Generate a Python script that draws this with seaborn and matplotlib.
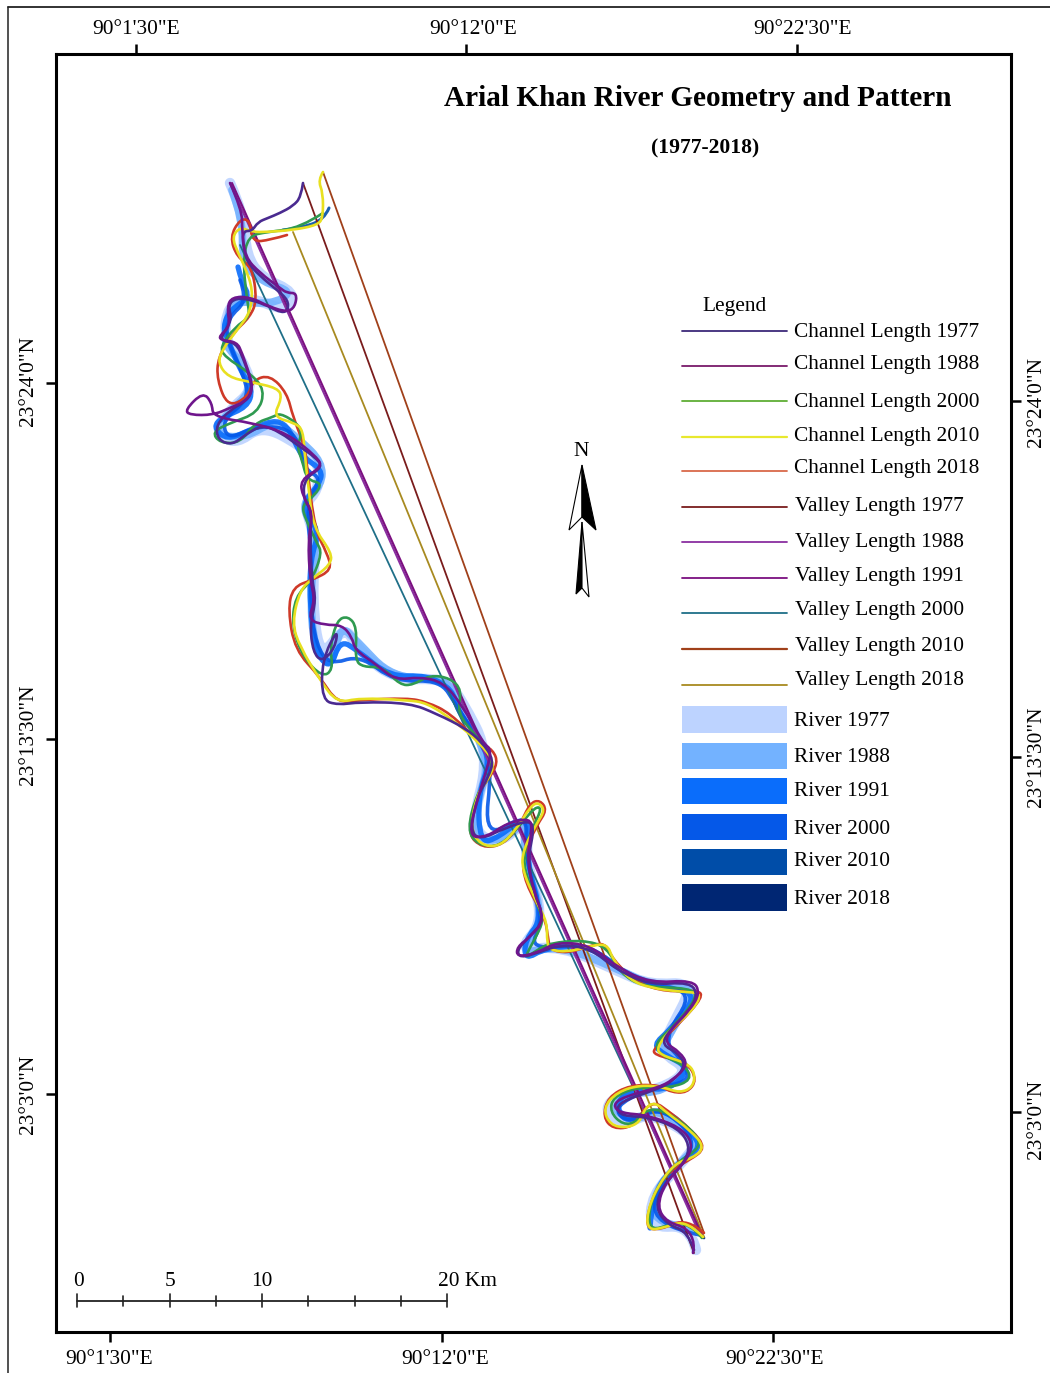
import pandas as pd
import matplotlib
matplotlib.use("Agg")
import matplotlib.pyplot as plt
from matplotlib.path import Path
from matplotlib.patheffects import AbstractPathEffect
import seaborn as sns

# map coordinates
channel_1977 = [(303,183),(301,197),(293,206),(280,213),(268,218),(258,222),(252,231),(243,231),(243,245),(247,262),(260,276),(277,290),(288,300),(288,310),(282,313),(268,306),(252,300),(236,298),(228,305),(232,320),(222,335),(222,341),(236,343),(243,358),(250,378),(252,392),(245,402),(230,410),(216,425),(218,440),(232,445),(245,435),(262,425),(280,432),(300,447),(315,457),(323,467),(305,478),(303,497),(312,512),(310,540),(312,580),(316,600),(310,625),(313,652),(322,662),(335,648),(338,628),(322,660),(322,700),(338,705),(360,702),(410,703),(437,714),(465,728),(482,742),(494,760),(488,778),(478,795),(470,830),(480,840),(505,828),(530,820),(534,830),(528,858),(533,890),(545,920),(528,938),(517,950),(520,958),(540,952),(560,945),(590,948),(617,970),(650,985),(690,982),(698,995),(688,1012),(668,1032),(662,1045),(678,1053),(686,1066),(672,1082),(655,1090),(625,1100),(616,1108),(622,1116),(648,1117),(678,1128),(690,1145),(685,1162),(663,1185),(655,1208),(668,1225),(688,1232),(694,1250)]
channel_1988 = [(230,183),(242,210),(242,230),(245,257),(260,273),(280,288),(287,293),(297,293),(295,307),(287,312),(270,307),(250,297),(232,297),(227,307),(230,327),(220,335),(220,340),(237,342),(242,353),(248,370),(253,387),(248,400),(230,408),(213,415),(190,415),(185,410),(203,392),(212,403),(213,417),(253,423),(287,433),(317,457),(322,467),(300,480),(303,497),(313,513),(308,540),(310,580),(315,600),(308,620),(325,625),(342,625),(352,637),(355,650),(377,665),(395,680),(420,677),(443,682),(462,705),(483,743),(492,750),(485,775),(478,797),(468,837),(487,837),(507,823),(530,818),(532,830),(527,857),(533,890),(545,920),(530,937),(517,947),(517,957),(537,953),(557,942),(590,945),(617,967),(650,983),(693,980),(700,993),(690,1010),(670,1030),(665,1043),(680,1052),(688,1065),(673,1080),(657,1088),(623,1097),(613,1105),(620,1113),(647,1115),(680,1127),(693,1143),(687,1160),(665,1183),(657,1207),(667,1222),(687,1228),(695,1243),(693,1253)]
channel_2000 = [(323,213),(300,228),(267,232),(248,236),(243,262),(247,300),(250,317),(235,327),(220,347),(225,357),(250,373),(265,390),(258,413),(230,423),(212,432),(220,443),(240,443),(255,423),(273,417),(280,413),(297,423),(302,433),(297,447),(302,460),(307,480),(322,483),(315,495),(302,505),(305,518),(317,543),(322,553),(312,580),(295,597),(292,627),(303,657),(322,677),(333,670),(330,647),(337,620),(348,616),(357,627),(355,660),(363,667),(383,667),(400,685),(413,685),(430,675),(450,678),(462,690),(457,713),(477,737),(483,745),(492,760),(490,777),(477,793),(467,830),(478,845),(500,847),(522,823),(535,807),(542,808),(533,827),(522,857),(530,887),(543,917),(540,930),(523,960),(537,950),(550,943),(583,940),(607,947),(620,973),(643,987),(690,988),(698,997),(673,1027),(655,1043),(660,1055),(685,1065),(692,1080),(670,1088),(637,1087),(613,1097),(610,1112),(623,1125),(637,1122),(642,1112),(660,1108),(693,1130),(702,1147),(677,1162),(655,1190),(648,1217),(652,1230),(668,1225),(690,1223),(702,1238)]
channel_2010 = [(323,172),(318,180),(323,193),(323,217),(318,225),(293,230),(267,232),(252,232),(240,227),(232,237),(238,253),(245,267),(253,290),(250,313),(237,330),(222,350),(218,363),(228,377),(250,382),(278,388),(282,398),(273,417),(295,423),(303,430),(305,457),(308,483),(313,527),(332,553),(330,565),(313,578),(300,590),(292,623),(300,647),(320,680),(337,703),(360,698),(407,700),(427,703),(453,720),(480,743),(495,763),(488,780),(478,792),(470,827),(480,845),(500,847),(518,827),(530,807),(538,802),(545,810),(537,823),(523,850),(522,870),(537,903),(547,922),(547,943),(550,950),(567,952),(587,947),(607,943),(613,960),(630,980),(650,988),(683,992),(702,993),(693,1010),(670,1030),(657,1047),(660,1055),(687,1063),(695,1073),(693,1087),(680,1093),(663,1087),(640,1085),(617,1092),(603,1108),(610,1125),(627,1128),(640,1122),(645,1108),(655,1102),(667,1113),(690,1130),(705,1147),(693,1158),(675,1163),(657,1187),(647,1213),(648,1230),(663,1228),(687,1220),(703,1237)]
channel_2018 = [(287,235),(270,240),(252,242),(250,220),(240,219),(230,237),(237,257),(252,267),(257,300),(250,317),(233,333),(218,357),(217,380),(228,407),(248,397),(253,380),(270,375),(287,393),(293,417),(305,447),(307,467),(315,530),(327,553),(332,570),(312,580),(293,587),(288,610),(295,650),(320,677),(337,703),(360,700),(407,698),(427,702),(450,713),(480,743),(493,750),(498,763),(488,780),(478,792),(467,833),(482,848),(503,845),(520,825),(530,803),(540,800),(547,810),(537,825),(522,857),(525,883),(545,918),(548,937),(550,950),(567,953),(587,947),(605,942),(613,960),(637,983),(667,992),(698,990),(703,997),(680,1023),(655,1047),(653,1055),(687,1062),(697,1080),(687,1093),(670,1092),(660,1085),(630,1085),(608,1097),(603,1117),(613,1129),(633,1127),(643,1110),(655,1102),(667,1110),(692,1130),(706,1148),(690,1160),(670,1170),(652,1197),(645,1228),(660,1230),(687,1218),(704,1233)]

valley_1977 = [(303,183),(694,1253)]
valley_1988 = [(230,183),(700,1235)]
valley_1991 = [(232,183),(702,1235)]
valley_2000 = [(240,245),(703,1237)]
valley_2010 = [(323,172),(704,1233)]
valley_2018 = [(293,232),(704,1237)]

river_1977 = [(230,183),(244,215),(246,255),(262,278),(295,292),(288,312),(250,297),(228,305),(224,340),(243,360),(253,390),(232,408),(214,430),(235,445),(262,425),(300,445),(320,465),(318,490),(304,505),(316,540),(312,600),(320,660),(345,625),(358,650),(395,680),(445,678),(462,700),(490,755),(470,830),(500,845),(530,815),(525,860),(545,920),(517,952),(560,945),(620,972),(650,985),(695,982),(670,1030),(660,1052),(690,1070),(660,1090),(620,1093),(603,1110),(625,1125),(650,1112),(700,1140),(680,1165),(652,1195),(650,1228),(690,1225),(696,1250)]
river_1988 = [(232,190),(243,220),(242,262),(262,282),(294,292),(270,305),(232,300),(226,325),(224,345),(245,365),(252,392),(225,415),(215,435),(245,438),(275,420),(300,440),(322,462),(322,485),(300,505),(318,535),(310,590),(314,650),(332,668),(340,625),(356,640),(392,678),(445,678),(458,700),(490,760),(478,800),(472,840),(505,840),(525,820),(524,860),(545,920),(518,955),(560,945),(620,970),(650,985),(700,985),(672,1030),(660,1052),(692,1065),(665,1092),(625,1093),(612,1112),(640,1120),(660,1108),(700,1145),(680,1162),(655,1190),(652,1225),(695,1228)]
river_1991 = [(238,267),(242,283),(250,297),(230,310),(223,327),(228,340),(240,370),(253,390),(247,407),(223,417),(213,427),(227,440),(250,430),(273,420),(287,425),(297,447),(303,457),(322,470),(320,483),(300,507),(320,530),(310,560),(310,607),(315,650),(330,670),(340,640),(357,650),(390,677),(427,675),(453,690),(457,710),(480,740),(490,762),(478,795),(480,843),(498,838),(530,812),(526,860),(543,918),(525,940),(525,960),(545,948),(590,945),(625,975),(670,988),(698,995),(670,1030),(653,1045),(665,1055),(690,1068),(670,1090),(640,1088),(615,1100),(625,1125),(660,1105),(695,1135),(700,1150),(675,1165),(652,1195),(650,1228)]
river_2000 = [(240,280),(248,300),(228,318),(226,338),(245,378),(248,400),(222,420),(228,440),(258,425),(296,430),(304,470),(322,478),(306,503),(312,560),(310,600),(316,645),(330,665),(360,655),(395,682),(440,680),(456,705),(482,745),(492,765),(484,840),(528,812),(524,855),(544,920),(528,950),(590,943),(640,985),(696,990),(662,1040),(684,1062),(690,1082),(650,1088),(612,1108),(630,1124),(660,1105),(702,1145),(660,1180),(650,1225),(700,1235)]
river_2010 = [(329,208),(324,220),(300,228),(283,230)]
river_2018 = [(700,1232),(704,1238)]

channel_names = ["Channel Length 1977", "Channel Length 1988", "Channel Length 2000", "Channel Length 2010", "Channel Length 2018"]
valley_names = ["Valley Length 1977", "Valley Length 1988", "Valley Length 1991", "Valley Length 2000", "Valley Length 2010", "Valley Length 2018"]
river_names = ["River 1977", "River 1988", "River 1991", "River 2000", "River 2010", "River 2018"]
channel_colors = ["#3d2a7a", "#7a1a6a", "#5fae35", "#e8e82e", "#d9694a"]
map_channel_colors = ["#4a2a90", "#6f168c", "#2f9a50", "#e8e020", "#cf3a28"]
valley_colors = ["#7a1c1c", "#8a2fa0", "#7b0f80", "#1f6f88", "#a0401a", "#a88a20"]
river_colors = ["#bdd3ff", "#73b2ff", "#0a6dfb", "#0558e8", "#004da8", "#002673"]

sns.set_style("white")
plt.rcParams["font.family"] = ["Liberation Serif", "DejaVu Serif"]
plt.rcParams["text.color"] = "black"

W, H = 1050, 1373
fig = plt.figure(figsize=(W / 100, H / 100), dpi=100, facecolor="white")
L, R, T, B = 56, 1011, 54, 1332
ax = fig.add_axes([L / W, 1 - B / H, (R - L) / W, (B - T) / H])
ax.set_xlim(L, R)
ax.set_ylim(B, T)


class Rounded(AbstractPathEffect):
    # renders the read points as control points of a curve, the digitised rivers are not angular
    def draw_path(self, renderer, gc, tpath, affine, rgbFace=None):
        v = tpath.vertices
        if len(v) < 3:
            renderer.draw_path(gc, tpath, affine, rgbFace)
            return
        verts, codes = [v[0]], [Path.MOVETO]
        for i in range(1, len(v) - 1):
            end = v[i + 1] if i == len(v) - 2 else (v[i] + v[i + 1]) / 2
            verts += [v[i], end]
            codes += [Path.CURVE3, Path.CURVE3]
        renderer.draw_path(gc, Path(verts, codes), affine, rgbFace)


def draw(points, name, color, width, alpha=1):
    df = pd.DataFrame(points, columns=["x", "y"])
    df["name"] = name
    sns.lineplot(data=df, x="x", y="y", color=color, linewidth=width, alpha=alpha,
                 sort=False, estimator=None, legend=False, ax=ax,
                 solid_joinstyle="round", solid_capstyle="round")
    ax.lines[-1].set_path_effects([Rounded()])


rivers = [river_1977, river_1988, river_1991, river_2000, river_2010, river_2018]
river_widths = [7.5, 5.5, 3.8, 2.6, 2.2, 2]
for pts, name, col, w in zip(rivers, river_names, river_colors, river_widths):
    draw(pts, name, col, w, 0.9)

valleys = [valley_2000, valley_1977, valley_2010, valley_2018, valley_1988, valley_1991]
order = [3, 0, 4, 5, 1, 2]
for pts, i in zip(valleys, order):
    draw(pts, valley_names[i], valley_colors[i], 1.5 if i in (1, 2) else 1.3)

channels = [channel_2018, channel_2000, channel_2010, channel_1977, channel_1988]
order = [4, 2, 3, 0, 1]
for pts, i in zip(channels, order):
    draw(pts, channel_names[i], map_channel_colors[i], 1.9)

ax.set_xlabel("")
ax.set_ylabel("")

# frame and graticule ticks, top/right are shifted against bottom/left
for s in ax.spines.values():
    s.set_visible(True)
    s.set_color("black")
    s.set_linewidth(2.2)
ax.set_xticks([110, 442, 773], labels=[])
ax.set_yticks([383, 739, 1094], labels=[])
ax.tick_params(length=7, width=1.8, color="black", bottom=True, left=True)
top = ax.secondary_xaxis("top")
top.set_xticks([136, 466, 797], labels=[])
top.tick_params(length=7, width=1.8, color="black")
top.spines["top"].set_visible(False)
right = ax.secondary_yaxis("right")
right.set_yticks([401, 757, 1112], labels=[])
right.tick_params(length=7, width=1.8, color="black")
right.spines["right"].set_visible(False)

fs = 15.4
for x, t in zip([136, 473, 803], ['90°1\'30"E', '90°12\'0"E', '90°22\'30"E']):
    ax.text(x, 29, t, ha="center", va="center", fontsize=fs, clip_on=False)
for x, t in zip([109, 445, 775], ['90°1\'30"E', '90°12\'0"E', '90°22\'30"E']):
    ax.text(x, 1359, t, ha="center", va="center", fontsize=fs, clip_on=False)
for y, t in zip([381, 735, 1094], ['23°24\'0"N', '23°13\'30"N', '23°3\'0"N']):
    ax.text(29, y, t, ha="center", va="center", rotation=90, fontsize=fs, clip_on=False)
for y, t in zip([402, 757, 1119], ['23°24\'0"N', '23°13\'30"N', '23°3\'0"N']):
    ax.text(1037, y, t, ha="center", va="center", rotation=90, fontsize=fs, clip_on=False)

ax.text(698, 99, "Arial Khan River Geometry and Pattern", ha="center", va="center",
        fontsize=21.1, fontweight="bold")
ax.text(705, 148, "(1977-2018)", ha="center", va="center", fontsize=15.6, fontweight="bold")

# legend, row spacing on the sheet is uneven
ax.text(735, 306, "Legend", ha="center", va="center", fontsize=fs)
line_y = [331, 366, 401, 437, 471, 507, 542, 578, 613, 649, 685]
text_y = [332, 365, 402, 436, 469, 506, 543, 577, 611, 647, 681]
line_names = channel_names + valley_names
line_colors = channel_colors + valley_colors
for n, c, ly, ty in zip(line_names, line_colors, line_y, text_y):
    ax.plot([682, 787], [ly, ly], color=c, lw=1.6 if "2010" in n else 1.3)
    ax.text(794 if n.startswith("Channel") else 795, ty, n, va="center", fontsize=fs)
patch_top = [706, 743, 778, 814, 849, 884]
patch_bot = [733, 769, 804, 840, 875, 911]
patch_text = [721, 758, 792, 829, 862, 899]
for n, c, a, b, ty in zip(river_names, river_colors, patch_top, patch_bot, patch_text):
    ax.fill_between([682, 787], a, b, color=c, lw=0)
    ax.text(794, ty, n, va="center", fontsize=fs)

# north arrow
ax.text(581, 451, "N", ha="center", va="center", fontsize=fs)
ax.fill([582, 569, 582], [465, 530, 517], facecolor="white", edgecolor="black", lw=0.8)
ax.fill([582, 596, 582], [465, 530, 517], facecolor="black", edgecolor="black", lw=0.8)
ax.fill([582, 576, 582], [522, 594, 588], facecolor="black", edgecolor="black", lw=0.8)
ax.fill([582, 589, 582], [522, 597, 588], facecolor="white", edgecolor="black", lw=0.8)

# scale bar
scale_km = [0, 2.5, 5, 7.5, 10, 12.5, 15, 17.5, 20]
px_per_km = 18.5
ax.plot([77, 77 + 20 * px_per_km], [1301, 1301], color="#222222", lw=1.3)
for km in scale_km:
    major = km in (0, 5, 10, 20)
    x = 77 + km * px_per_km
    ax.plot([x, x], [1294 if major else 1296, 1307 if major else 1306], color="#222222", lw=1.2)
for x, t in zip([79, 170, 262], ["0", "5", "10"]):
    ax.text(x, 1281, t, ha="center", va="center", fontsize=fs)
ax.text(438, 1281, "20 Km", ha="left", va="center", fontsize=fs)

# outer sheet border
fig.add_artist(plt.Line2D([8 / W, 8 / W], [0, 1 - 6.5 / H], color="#222222", lw=1.1))
fig.add_artist(plt.Line2D([8 / W, 1], [1 - 6.5 / H, 1 - 6.5 / H], color="#222222", lw=1.3))

fig.savefig("out.png", dpi=100)
